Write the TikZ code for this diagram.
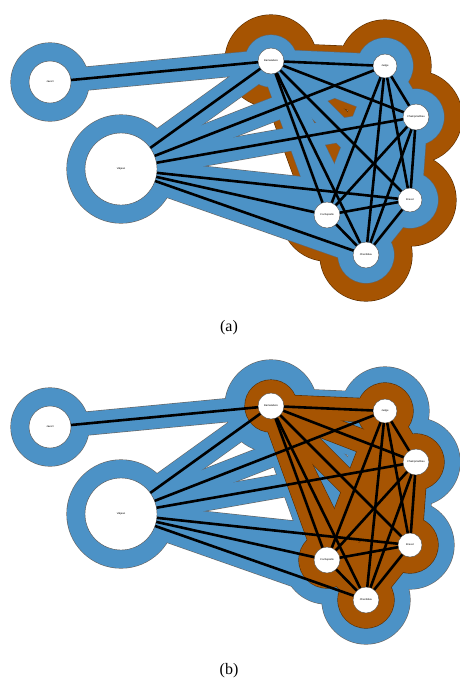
\documentclass[tikz,border=0pt]{standalone}
\usepackage{fontspec}
\setmainfont{Liberation Serif}
\setsansfont{Liberation Sans}
\usetikzlibrary{backgrounds}

\definecolor{setblue}{RGB}{76,146,198}
\definecolor{setbrown}{RGB}{166,84,2}

\tikzset{
	person/.style={circle, draw=black!70, line width=0.4pt, fill=white, inner sep=0pt,
		font=\sffamily\fontsize{2.6}{2.8}\selectfont},
	link/.style={line width=2.6pt, black},
	caption/.style={font=\fontsize{16}{18}\selectfont},
}

% the trial group (all pairs) and the edges to Javert and Valjean
\def\trial{bam/jud, bam/cha, bam/bre, bam/coc, bam/che, jud/cha, jud/bre, jud/coc, jud/che, cha/bre, cha/coc, cha/che, bre/coc, bre/che, coc/che}
\def\outer{jav/bam, val/bam, val/jud, val/cha, val/bre, val/coc, val/che}

\begin{document}
\begin{tikzpicture}[x=1pt, y=-1pt]
	\useasboundingbox (0,0) rectangle (459,681);

	\foreach \p/\dy in {a/0, b/345}{
		\node(jav-\p)[person, minimum size=42pt] at (50,82+\dy) {Javert};
		\node(val-\p)[person, minimum size=72pt] at (121,169+\dy) {Valjean};
		\node(bam-\p)[person, minimum size=26pt] at (271,61+\dy) {Bamatabois};
		\node(jud-\p)[person, minimum size=24pt] at (385,66+\dy) {Judge};
		\node(cha-\p)[person, minimum size=26pt] at (416,117+\dy) {Champmathieu};
		\node(bre-\p)[person, minimum size=24pt] at (410,200+\dy) {Brevet};
		\node(coc-\p)[person, minimum size=26pt] at (327,215+\dy) {Cochepaille};
		\node(che-\p)[person, minimum size=26pt] at (366,255+\dy) {Chenildieu};
	}

	\node(cap-a)[caption] at (229,328) {(a)};
	\node(cap-b)[caption] at (229,671) {(b)};

	\foreach \p in {a,b}{
		\foreach \s/\t in \trial \draw[link] (\s-\p) -- (\t-\p);
		\foreach \s/\t in \outer \draw[link] (\s-\p) -- (\t-\p);
	}

	\begin{pgfonlayer}{background}
		% (a): wide trial group under the narrow group of all
		\foreach \n in {bam,jud,cha,bre,coc,che} \fill[setbrown!55!black] (\n-a.center) circle[radius=46.6pt];
		\foreach \s/\t in \trial \draw[setbrown!55!black, line width=37.2pt] (\s-a.center) -- (\t-a.center);
		\foreach \n in {bam,jud,cha,bre,coc,che} \fill[setbrown] (\n-a.center) circle[radius=46pt];
		\foreach \s/\t in \trial \draw[setbrown, line width=36pt] (\s-a.center) -- (\t-a.center);

		\foreach \n/\r in {jav/39, val/54, bam/26, jud/28, cha/28, bre/28, coc/28, che/28} \fill[black!60] (\n-a.center) circle[radius=\r pt+0.6pt];
		\foreach \s/\t in \trial \draw[black!60, line width=24.2pt] (\s-a.center) -- (\t-a.center);
		\foreach \s/\t in \outer \draw[black!60, line width=24.2pt] (\s-a.center) -- (\t-a.center);
		\foreach \n/\r in {jav/39, val/54, bam/26, jud/28, cha/28, bre/28, coc/28, che/28} \fill[setblue] (\n-a.center) circle[radius=\r pt];
		\foreach \s/\t in \trial \draw[setblue, line width=23pt] (\s-a.center) -- (\t-a.center);
		\foreach \s/\t in \outer \draw[setblue, line width=23pt] (\s-a.center) -- (\t-a.center);

		% (b): wide group of all under the narrow trial group
		\foreach \n/\r in {jav/39, val/54, bam/46, jud/44, cha/44, bre/44, coc/44, che/44} \fill[black!60] (\n-b.center) circle[radius=\r pt+0.6pt];
		\foreach \s/\t in \trial \draw[black!60, line width=37.2pt] (\s-b.center) -- (\t-b.center);
		\foreach \s/\t in \outer \draw[black!60, line width=24.2pt] (\s-b.center) -- (\t-b.center);
		\foreach \n/\r in {jav/39, val/54, bam/46, jud/44, cha/44, bre/44, coc/44, che/44} \fill[setblue] (\n-b.center) circle[radius=\r pt];
		\foreach \s/\t in \trial \draw[setblue, line width=36pt] (\s-b.center) -- (\t-b.center);
		\foreach \s/\t in \outer \draw[setblue, line width=23pt] (\s-b.center) -- (\t-b.center);

		\foreach \n/\r in {bam/26, jud/28, cha/28, bre/28, coc/28, che/28} \fill[setbrown!55!black] (\n-b.center) circle[radius=\r pt+0.6pt];
		\foreach \s/\t in \trial \draw[setbrown!55!black, line width=24.2pt] (\s-b.center) -- (\t-b.center);
		\foreach \n/\r in {bam/26, jud/28, cha/28, bre/28, coc/28, che/28} \fill[setbrown] (\n-b.center) circle[radius=\r pt];
		\foreach \s/\t in \trial \draw[setbrown, line width=23pt] (\s-b.center) -- (\t-b.center);
	\end{pgfonlayer}
\end{tikzpicture}
\end{document}
